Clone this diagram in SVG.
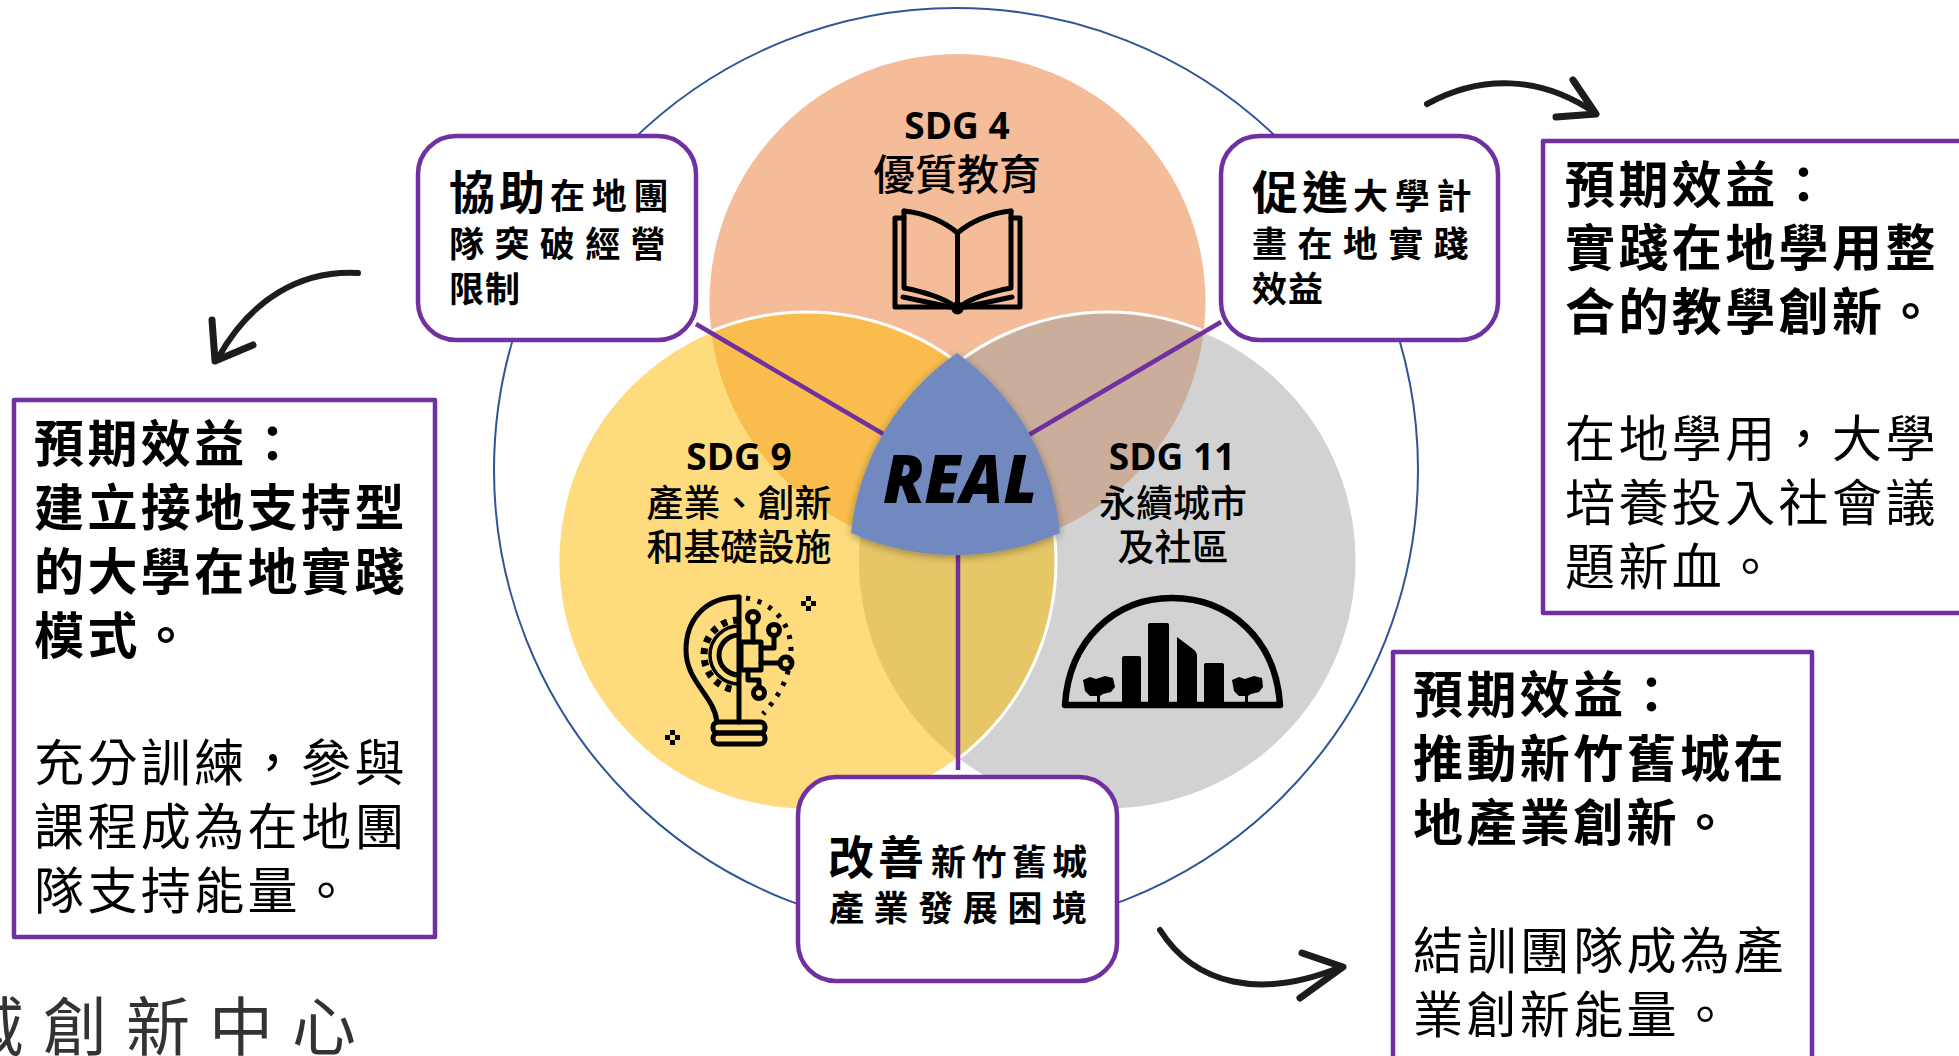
<svg xmlns="http://www.w3.org/2000/svg" width="1959" height="1056" viewBox="0 0 1959 1056">
<style>
text{font-family:"Noto Sans CJK TC","Noto Sans",sans-serif;fill:#000}
.h{font-size:50px;letter-spacing:3.4px;font-weight:700}
.b{font-size:50px;letter-spacing:3.4px;font-weight:400}
.big{font-size:46px;font-weight:700;letter-spacing:4px}
.mid{font-size:35px;font-weight:700;letter-spacing:6.8px}
.sdg{font-family:"Open Sans","Noto Sans",sans-serif;font-size:37px;font-weight:700;text-anchor:middle}
.lab{font-size:37px;font-weight:500;text-anchor:middle}
.card{fill:#fff;stroke:#7030A0;stroke-width:4.5}
.box{fill:#fff;stroke:#7030A0;stroke-width:4.5;stroke-linejoin:round}
.link{stroke:#7030A0;stroke-width:4.5;fill:none}
.arrow{fill:none;stroke:#1c1c1c;stroke-linecap:round;stroke-linejoin:round}
.ic{fill:none;stroke:#000;stroke-width:5;stroke-linecap:round;stroke-linejoin:round}
.fk{fill:#000}
</style>
<defs>
<clipPath id="cO"><circle cx="957.5" cy="302" r="248"/></clipPath>
<clipPath id="cY"><circle cx="807" cy="561" r="249"/></clipPath>
<filter id="sh" x="-20%" y="-20%" width="140%" height="140%"><feDropShadow dx="0" dy="2" stdDeviation="4" flood-color="#000" flood-opacity=".35"/></filter>
</defs>

<g id="outer-ring"><circle cx="956" cy="470" r="462" fill="none" stroke="#2F5597" stroke-width="2"/></g>

<g id="venn">
<circle cx="957.5" cy="302" r="248" fill="#F5BC99"/>
<circle cx="1108" cy="561" r="249" fill="#D2D2D2"/>
<circle cx="1108" cy="561" r="249" fill="#CAAE9B" clip-path="url(#cO)"/>
<circle cx="1108" cy="561" r="249" fill="none" stroke="#fff" stroke-width="3"/>
<circle cx="807" cy="561" r="249" fill="#FEDC7E"/>
<circle cx="807" cy="561" r="249" fill="#FABD4D" clip-path="url(#cO)"/>
<circle cx="1108" cy="561" r="249" fill="#E5C767" clip-path="url(#cY)"/>
<circle cx="807" cy="561" r="249" fill="none" stroke="#fff" stroke-width="3"/>
</g>

<g id="connectors">
<path class="link" d="M696 324L885 435"/>
<path class="link" d="M1221 322L1027 436"/>
<path class="link" d="M958 555V770"/>
<path class="arrow" stroke-width="6" d="M358 273C300 270 250 300 218 358"/>
<path class="arrow" stroke-width="7" d="M212 320L215 361L253 345"/>
<path class="arrow" stroke-width="6" d="M1427 104C1480 75 1540 75 1595 113"/>
<path class="arrow" stroke-width="7" d="M1573 80L1596 114L1556 117"/>
<path class="arrow" stroke-width="6" d="M1160 930C1195 985 1260 1000 1341 967"/>
<path class="arrow" stroke-width="7" d="M1302 953L1343 967L1300 998"/>
</g>

<g id="center-real">
<path d="M957 353A250 250 0 0 1 1060 533A257 257 0 0 1 851 533A250 250 0 0 1 957 353Z" fill="#7189BF" filter="url(#sh)"/>
<text x="960" y="503" text-anchor="middle" style="font-family:'Open Sans','Noto Sans',sans-serif;font-size:68px;font-weight:800;font-style:italic" textLength="154" lengthAdjust="spacingAndGlyphs">REAL</text>
</g>

<g id="sdg4">
<text class="sdg" x="957" y="139">SDG 4</text>
<text class="lab" x="957" y="190" style="font-size:42px">優質教育</text>
<g class="ic">
<path d="M904 218H895V307H1020V218H1011"/>
<path d="M904 211V288C925 292 942 298 953 305M1011 211V288C990 292 973 298 962 305"/>
<path d="M904 211C925 213 945 222 957.5 233C970 222 990 213 1011 211"/>
<path d="M957.5 233V305"/>
<path d="M903 297L950 307M1012 297L965 307"/>
</g>
<circle class="fk" cx="957.5" cy="308" r="6.5"/>
</g>

<g id="sdg9">
<text class="sdg" x="739" y="470">SDG 9</text>
<text class="lab" x="739" y="517">產業、創新</text>
<text class="lab" x="739" y="561">和基礎設施</text>
<g class="ic">
<path d="M739 597V722"/>
<path d="M739 597C705 597 686 620 686 650C686 682 714 695 717 722"/>
<rect x="713" y="722" width="52" height="11" rx="5"/>
<rect x="713" y="733" width="52" height="11" rx="5"/>
<path d="M739 635A20 20 0 0 0 739 675"/>
<path d="M739 620A35 35 0 0 0 739 690" stroke-width="7" stroke-dasharray="6 6" stroke-linecap="butt"/>
<path d="M739 626A29 29 0 0 0 739 684" stroke-width="3.5"/>
<rect x="741" y="642" width="20" height="28"/>
<path d="M753 642V623M761 648H774V636M761 663H780M748 670V680H759V687"/>
<circle cx="753" cy="617" r="5.5"/><circle cx="774" cy="630" r="5.5"/><circle cx="786" cy="663" r="6"/><circle cx="759" cy="693" r="5.5"/>
<path d="M746 598C775 603 791 625 791 650C791 675 780 695 763 714" stroke-dasharray="4 8" stroke-linecap="butt"/>
</g>
<g class="fk">
<rect x="806" y="596" width="5" height="5"/><rect x="801" y="601" width="5" height="5"/><rect x="811" y="601" width="5" height="5"/><rect x="806" y="606" width="5" height="5"/>
<rect x="670" y="730" width="5" height="5"/><rect x="665" y="735" width="5" height="5"/><rect x="675" y="735" width="5" height="5"/><rect x="670" y="740" width="5" height="5"/>
</g>
</g>

<g id="sdg11">
<text class="sdg" x="1172" y="470">SDG 11</text>
<text class="lab" x="1173" y="517">永續城市</text>
<text class="lab" x="1173" y="561">及社區</text>
<path class="ic" style="stroke-width:6.5" d="M1065 705C1069 640 1115 598 1172 598C1230 598 1276 640 1280 705Z"/>
<g class="fk">
<rect x="1122" y="656" width="19" height="50" rx="2"/>
<rect x="1148" y="623" width="21" height="83" rx="2"/>
<path d="M1177 637L1193 649Q1197 652 1197 656V706H1177Z"/>
<rect x="1204" y="663" width="20" height="43" rx="2"/>
<path d="M1083 680L1090 677L1096 679L1105 676L1113 678L1115 687L1111 692L1103 694L1100 696V705H1097V696L1090 696L1085 691Z"/>
<path d="M1232 680L1239 677L1245 679L1254 676L1262 678L1263 687L1259 692L1251 694L1248 696V705H1245V696L1239 696L1234 691Z"/>
</g>
</g>

<g id="card-left">
<rect class="card" x="418" y="136" width="278" height="204" rx="38"/>
<text class="big" x="449" y="209">協助</text>
<text class="mid" x="550" y="209">在地團</text>
<text class="mid" x="449" y="257" style="letter-spacing:10.4px">隊突破經營</text>
<text class="mid" x="449" y="302" style="letter-spacing:1px">限制</text>
</g>
<g id="card-right">
<rect class="card" x="1221" y="136" width="277" height="204" rx="38"/>
<text class="big" x="1252" y="209">促進</text>
<text class="mid" x="1353" y="209">大學計</text>
<text class="mid" x="1252" y="257" style="letter-spacing:10.4px">畫在地實踐</text>
<text class="mid" x="1252" y="302" style="letter-spacing:1px">效益</text>
</g>
<g id="card-bottom">
<rect class="card" x="798" y="777" width="319" height="204" rx="38"/>
<text class="big" x="828" y="874">改善</text>
<text class="mid" x="931" y="875" style="letter-spacing:5.4px">新竹舊城</text>
<text class="mid" x="829" y="921" style="letter-spacing:9.6px">產業發展困境</text>
</g>

<g id="box-left">
<rect class="box" x="14" y="400" width="421" height="537"/>
<text class="h" x="34" y="462">預期效益：</text>
<text class="h" x="34" y="526">建立接地支持型</text>
<text class="h" x="34" y="590">的大學在地實踐</text>
<text class="h" x="34" y="654">模式。</text>
<text class="b" x="34" y="781">充分訓練，參與</text>
<text class="b" x="34" y="845">課程成為在地團</text>
<text class="b" x="34" y="909">隊支持能量。</text>
</g>
<g id="box-right-top">
<rect class="box" x="1543" y="141" width="430" height="472"/>
<text class="h" x="1565" y="203">預期效益：</text>
<text class="h" x="1565" y="266">實踐在地學用整</text>
<text class="h" x="1565" y="330">合的教學創新。</text>
<text class="b" x="1565" y="457">在地學用，大學</text>
<text class="b" x="1565" y="521">培養投入社會議</text>
<text class="b" x="1565" y="585">題新血。</text>
</g>
<g id="box-right-bottom">
<rect class="box" x="1393" y="652" width="419" height="420"/>
<text class="h" x="1413" y="713">預期效益：</text>
<text class="h" x="1413" y="777">推動新竹舊城在</text>
<text class="h" x="1413" y="841">地產業創新。</text>
<text class="b" x="1413" y="969">結訓團隊成為產</text>
<text class="b" x="1413" y="1033">業創新能量。</text>
</g>

<g id="footer">
<text x="-40" y="1050" style="font-size:64px;letter-spacing:19px;font-weight:400;fill:#333">域創新中心</text>
</g>
</svg>
